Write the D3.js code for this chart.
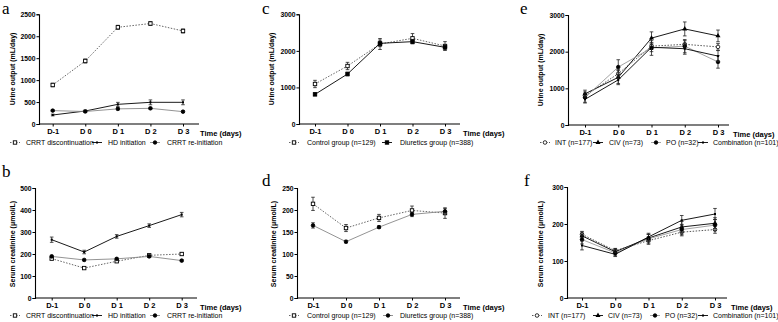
<!DOCTYPE html>
<html>
<head>
<meta charset="utf-8">
<title>Urine output and serum creatinine</title>
<style>
  body { margin: 0; background: #fff; }
  svg text { font-family: "Liberation Sans", Arial, sans-serif; }
  .tick text { font-weight: bold; }
  .letter { font-family: "Liberation Serif", "Times New Roman", serif; font-size: 17px; }
</style>
</head>
<body>
<svg id="chart" width="778" height="322"></svg>
<script src="https://cdnjs.cloudflare.com/ajax/libs/d3/7.8.5/d3.min.js"></script>
<script>
const days = ["D-1", "D 0", "D 1", "D 2", "D 3"];

// a / b : CRRT groups
const crrtNames = ["CRRT discontinuation", "HD initiation", "CRRT re-initiation"];
const urineDiscont = [889, 1436, 2204, 2290, 2120];
const urineDiscontErr = [40, 45, 45, 45, 45];
const urineHD = [205, 296, 448, 494, 494];
const urineHDErr = [20, 25, 45, 55, 55];
const urineReinit = [305, 285, 345, 357, 281];
const urineReinitErr = [20, 20, 25, 25, 20];

const creatDiscont = [179, 136, 167, 194, 200];
const creatDiscontErr = [5, 4, 5, 5, 6];
const creatHD = [265, 209, 280, 329, 379];
const creatHDErr = [12, 8, 8, 8, 10];
const creatReinit = [189, 173, 178, 189, 170];
const creatReinitErr = [5, 4, 4, 5, 5];

// c / d : diuretics
const diurNames = ["Control group (n=129)", "Diuretics group (n=388)"];
const urineControl = [1094, 1586, 2188, 2343, 2133];
const urineControlErr = [100, 100, 150, 130, 120];
const urineDiuretics = [811, 1367, 2206, 2252, 2097];
const urineDiureticsErr = [40, 50, 90, 60, 70];

const creatControl = [214, 159, 182, 199, 193];
const creatControlErr = [15, 8, 8, 10, 12];
const creatDiuretics = [165, 128, 161, 190, 197];
const creatDiureticsErr = [6, 3, 3, 5, 6];

// e / f : routes
const routeNames = ["INT (n=177)", "CIV (n=73)", "PO (n=32)", "Combination (n=101)"];
const urineINT = [800, 1400, 2150, 2200, 2130];
const urineINTErr = [60, 100, 90, 100, 90];
const urineCIV = [850, 1300, 2370, 2620, 2430];
const urineCIVErr = [100, 200, 170, 190, 160];
const urinePO = [750, 1580, 2100, 2150, 1720];
const urinePOErr = [150, 200, 200, 180, 170];
const urineComb = [700, 1230, 2120, 2080, 1880];
const urineCombErr = [80, 100, 120, 150, 150];

const creatINT = [172, 128, 155, 178, 185];
const creatINTErr = [8, 6, 10, 10, 10];
const creatCIV = [168, 125, 162, 192, 202];
const creatCIVErr = [10, 8, 10, 15, 15];
const creatPO = [158, 122, 160, 185, 197];
const creatPOErr = [12, 8, 12, 14, 15];
const creatComb = [142, 118, 165, 210, 227];
const creatCombErr = [12, 6, 10, 13, 15];

const urineTitle = "Urine output (mL/day)";
const creatTitle = "Serum creatinine (\u03bcmol/L)";

// marker styles
const openSq = { shape: "square", fill: "#fff", stroke: "#000", line: "#555", dash: "1.5,1.5" };
const filledSq = { shape: "square", fill: "#000", stroke: "#000", line: "#000", dash: null };
const tick = { shape: "tick", fill: "#000", stroke: "#000", line: "#000", dash: null };
const dot = { shape: "circle", fill: "#000", stroke: "#000", line: "#888", dash: null };
const openCirc = { shape: "circle", fill: "#fff", stroke: "#000", line: "#444", dash: "1.5,1.5" };
const tri = { shape: "triangle", fill: "#000", stroke: "#000", line: "#000", dash: null };
const dotGray = { shape: "circle", fill: "#000", stroke: "#000", line: "#999", dash: null };

const panels = [
  { letter: "a", lx: 2, ly: 14, ax: 39, top: 14.3, bottom: 124, x0: 52.7, x1: 183, xEnd: 199, max: 2500, step: 500,
    title: urineTitle, tx: 15, ty: 69, timeX: 200, legY: 145,
    series: [[urineDiscont, urineDiscontErr, openSq], [urineHD, urineHDErr, tick], [urineReinit, urineReinitErr, dot]],
    names: crrtNames, leg: [[15, 26], [97, 108], [155, 167]] },
  { letter: "b", lx: 2, ly: 177, ax: 35, top: 188, bottom: 298, x0: 51.7, x1: 181.7, xEnd: 197, max: 500, step: 100,
    title: creatTitle, tx: 15, ty: 244, timeX: 200, legY: 318,
    series: [[creatDiscont, creatDiscontErr, openSq], [creatHD, creatHDErr, tick], [creatReinit, creatReinitErr, dot]],
    names: crrtNames, leg: [[15, 26], [97, 108], [155, 167]] },
  { letter: "c", lx: 262, ly: 14, ax: 299, top: 14.3, bottom: 124, x0: 315, x1: 445, xEnd: 460, max: 3000, step: 1000,
    title: urineTitle, tx: 274, ty: 69, timeX: 463, legY: 145,
    series: [[urineControl, urineControlErr, openSq], [urineDiuretics, urineDiureticsErr, filledSq]],
    names: diurNames, leg: [[294, 307], [387, 400]] },
  { letter: "d", lx: 262, ly: 186, ax: 297, top: 188, bottom: 298, x0: 313, x1: 445, xEnd: 460, max: 250, step: 50,
    title: creatTitle, tx: 276, ty: 244, timeX: 463, legY: 318,
    series: [[creatControl, creatControlErr, openSq], [creatDiuretics, creatDiureticsErr, dot]],
    names: diurNames, leg: [[294, 307], [388, 400]] },
  { letter: "e", lx: 520, ly: 14, ax: 568, top: 15, bottom: 125, x0: 585, x1: 718, xEnd: 729, max: 3000, step: 1000,
    title: urineTitle, tx: 543, ty: 70, timeX: 733, legY: 145,
    series: [[urineINT, urineINTErr, openCirc], [urineCIV, urineCIVErr, tri], [urinePO, urinePOErr, dotGray], [urineComb, urineCombErr, tick]],
    names: routeNames, leg: [[545, 555], [598, 609], [656, 666], [703, 713]] },
  { letter: "f", lx: 524, ly: 186, ax: 567, top: 187, bottom: 298, x0: 582, x1: 715, xEnd: 727, max: 300, step: 100,
    title: creatTitle, tx: 543, ty: 244, timeX: 731, legY: 318,
    series: [[creatINT, creatINTErr, openCirc], [creatCIV, creatCIVErr, tri], [creatPO, creatPOErr, dotGray], [creatComb, creatCombErr, tick]],
    names: routeNames, leg: [[537, 548], [598, 608], [655, 665], [703, 713]] }
];

const svg = d3.select("#chart");

function drawMarker(g, st, x, y) {
  if (st.shape === "square") {
    g.append("rect").attr("x", x - 1.7).attr("y", y - 1.7).attr("width", 3.4).attr("height", 3.4)
      .attr("fill", st.fill).attr("stroke", st.stroke).attr("stroke-width", 0.9);
  } else if (st.shape === "circle") {
    g.append("circle").attr("cx", x).attr("cy", y).attr("r", 1.8)
      .attr("fill", st.fill).attr("stroke", st.stroke).attr("stroke-width", 0.8);
  } else if (st.shape === "triangle") {
    g.append("path").attr("d", d3.symbol(d3.symbolTriangle, 11)()).attr("transform", `translate(${x},${y})`)
      .attr("fill", st.fill);
  } else {
    g.append("rect").attr("x", x - 1).attr("y", y - 1).attr("width", 2).attr("height", 2).attr("fill", "#000");
  }
}

panels.forEach(p => {
  const g = svg.append("g");
  const x = d3.scalePoint().domain(days).range([p.x0, p.x1]);
  const y = d3.scaleLinear().domain([0, p.max]).range([p.bottom, p.top]);

  g.append("text").attr("class", "letter").attr("x", p.lx).attr("y", p.ly).text(p.letter);

  // y axis
  const ya = g.append("g").attr("transform", `translate(${p.ax},0)`)
    .call(d3.axisLeft(y).tickValues(d3.range(0, p.max + 1, p.step)).tickSize(2.5).tickPadding(1).tickFormat(d3.format("d")));
  ya.selectAll("text").attr("font-size", 6.8).attr("fill", "#000");
  ya.select(".domain").attr("stroke-width", 1.1);

  // x axis
  const xa = g.append("g").attr("transform", `translate(0,${p.bottom})`)
    .call(d3.axisBottom(x).tickSize(2.5).tickPadding(2.5).tickSizeOuter(0));
  xa.select(".domain").attr("d", `M${p.ax},0H${p.xEnd}`).attr("stroke-width", 1.1);
  xa.selectAll("text").attr("font-size", 7.5).attr("fill", "#000");

  g.append("text").attr("x", p.timeX).attr("y", p.bottom + 12).attr("font-size", 7.5)
    .attr("font-weight", "bold").text("Time (days)");

  g.append("text").attr("transform", `translate(${p.tx},${p.ty}) rotate(-90)`)
    .attr("text-anchor", "middle").attr("font-size", 7).attr("font-weight", "bold").text(p.title);

  const line = d3.line().x((d, i) => x(days[i])).y(d => y(d));

  p.series.forEach(([vals, errs, st]) => {
    const sg = g.append("g");
    vals.forEach((v, i) => {
      const cx = x(days[i]);
      sg.append("line").attr("x1", cx).attr("x2", cx).attr("y1", y(v - errs[i])).attr("y2", y(v + errs[i]))
        .attr("stroke", "#222").attr("stroke-width", 0.8);
      [v - errs[i], v + errs[i]].forEach(e => {
        sg.append("line").attr("x1", cx - 1.8).attr("x2", cx + 1.8).attr("y1", y(e)).attr("y2", y(e))
          .attr("stroke", "#222").attr("stroke-width", 0.8);
      });
    });
    sg.append("path").attr("d", line(vals)).attr("fill", "none").attr("stroke", st.line)
      .attr("stroke-width", 0.9).attr("stroke-dasharray", st.dash);
    vals.forEach((v, i) => drawMarker(sg, st, x(days[i]), y(v)));
  });

  // legend
  p.series.forEach(([, , st], i) => {
    const [sx, tx] = p.leg[i];
    const lg = g.append("g");
    lg.append("line").attr("x1", sx - 5).attr("x2", sx + 5).attr("y1", p.legY - 2.5).attr("y2", p.legY - 2.5)
      .attr("stroke", st.line).attr("stroke-width", 0.9).attr("stroke-dasharray", st.dash);
    drawMarker(lg, st, sx, p.legY - 2.5);
    lg.append("text").attr("x", tx).attr("y", p.legY).attr("font-size", 7).text(p.names[i]);
  });
});
</script>
</body>
</html>
